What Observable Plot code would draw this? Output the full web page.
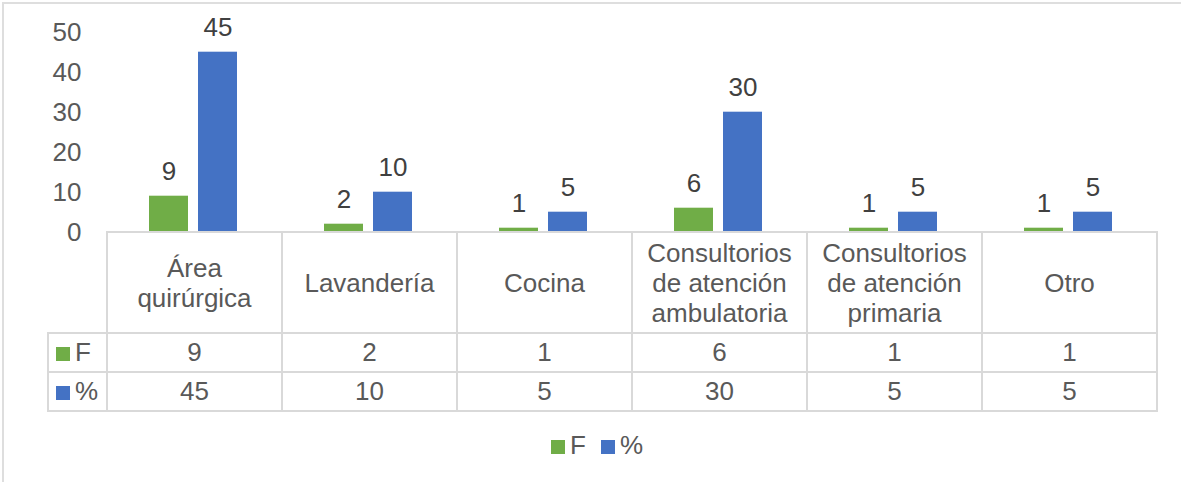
<!DOCTYPE html>
<html>
<head>
<meta charset="utf-8">
<script src="https://cdn.jsdelivr.net/npm/d3@7"></script>
<script src="https://cdn.jsdelivr.net/npm/@observablehq/plot@0.6"></script>
<style>
  html, body { margin: 0; padding: 0; background: #fff; }
  #wrap { position: relative; width: 1181px; height: 482px; overflow: hidden;
          font-family: "Liberation Sans", Arial, sans-serif; color: #595959; }
  #frame { position: absolute; left: 2px; top: 2px; width: 1200px; height: 500px;
           border-top: 2px solid #dedede; border-left: 2px solid #dedede; box-sizing: border-box; }
  #chart { position: absolute; left: 0; top: 0; }
  #tbl { position: absolute; left: 47px; top: 231px; border-collapse: collapse; table-layout: fixed;
         font-size: 26px; color: #595959; }
  #tbl td { border: 2px solid #d9d9d9; padding: 0; text-align: center; vertical-align: middle; }
  #tbl td.empty { border-top: hidden; border-left: hidden; }
  #tbl td.cat { line-height: 30px; white-space: pre-line; }
  #tbl td.key { text-align: left; padding-left: 7px; white-space: nowrap; }
  .sw { display: inline-block; width: 14px; height: 14px; margin-right: 5px; vertical-align: 0px; }
  #legend { position: absolute; left: 551px; top: 430px; font-size: 26px; color: #595959; white-space: nowrap; }
  #legend span.item { margin-right: 15px; }
</style>
</head>
<body>
<div id="wrap">
  <div id="frame"></div>
  <div id="chart"></div>
  <table id="tbl"></table>
  <div id="legend"></div>
</div>
<script>
const categories = ["Área quirúrgica", "Lavandería", "Cocina", "Consultorios de atención ambulatoria", "Consultorios de atención primaria", "Otro"];
const categoryLines = ["Área\nquirúrgica", "Lavandería", "Cocina", "Consultorios\nde atención\nambulatoria", "Consultorios\nde atención\nprimaria", "Otro"];
const seriesNames = ["F", "%"];
const fValues = [9, 2, 1, 6, 1, 1];
const pctValues = [45, 10, 5, 30, 5, 5];
const yTicks = [0, 10, 20, 30, 40, 50];
const seriesColors = ["#70AD47", "#4472C4"];

const seriesValues = [fValues, pctValues];
const data = categories.flatMap((c, i) =>
  seriesNames.map((s, j) => ({category: c, series: s, value: seriesValues[j][i]})));

const chart = Plot.plot({
  width: 1181,
  height: 245,
  marginTop: 31.7,
  marginBottom: 13.3,
  marginLeft: 106,
  marginRight: 25,
  fx: {domain: categories, padding: 0, axis: null},
  x: {domain: seriesNames, paddingInner: 0.2, paddingOuter: 0.86, axis: null},
  y: {domain: [0, 50], ticks: yTicks, tickSize: 0, tickPadding: 25, label: null},
  color: {domain: seriesNames, range: seriesColors},
  style: {fontSize: "26px", fontFamily: "'Liberation Sans', Arial, sans-serif", color: "#595959", background: "transparent", overflow: "visible"},
  marks: [
    Plot.barY(data, {fx: "category", x: "series", y: "value", fill: "series"}),
    Plot.text(data, {fx: "category", x: "series", y: "value", text: "value", dy: -25, fill: "#404040"})
  ]
});
document.getElementById("chart").appendChild(chart);

// data table
const tbl = document.getElementById("tbl");
const cg = document.createElement("colgroup");
const c0 = document.createElement("col"); c0.style.width = "59px"; cg.appendChild(c0);
categories.forEach(() => { const c = document.createElement("col"); c.style.width = "175px"; cg.appendChild(c); });
tbl.appendChild(cg);
const r0 = document.createElement("tr"); r0.style.height = "101px";
const e = document.createElement("td"); e.className = "empty"; r0.appendChild(e);
categoryLines.forEach(t => { const td = document.createElement("td"); td.className = "cat"; td.textContent = t; r0.appendChild(td); });
tbl.appendChild(r0);
seriesNames.forEach((s, j) => {
  const tr = document.createElement("tr"); tr.style.height = "39px";
  const k = document.createElement("td"); k.className = "key";
  k.innerHTML = `<span class="sw" style="background:${seriesColors[j]}"></span>${s}`;
  tr.appendChild(k);
  seriesValues[j].forEach(v => { const td = document.createElement("td"); td.textContent = v; tr.appendChild(td); });
  tbl.appendChild(tr);
});

// legend
const lg = document.getElementById("legend");
lg.innerHTML = seriesNames.map((s, j) =>
  `<span class="item"><span class="sw" style="background:${seriesColors[j]}"></span>${s}</span>`).join("");
</script>
</body>
</html>
